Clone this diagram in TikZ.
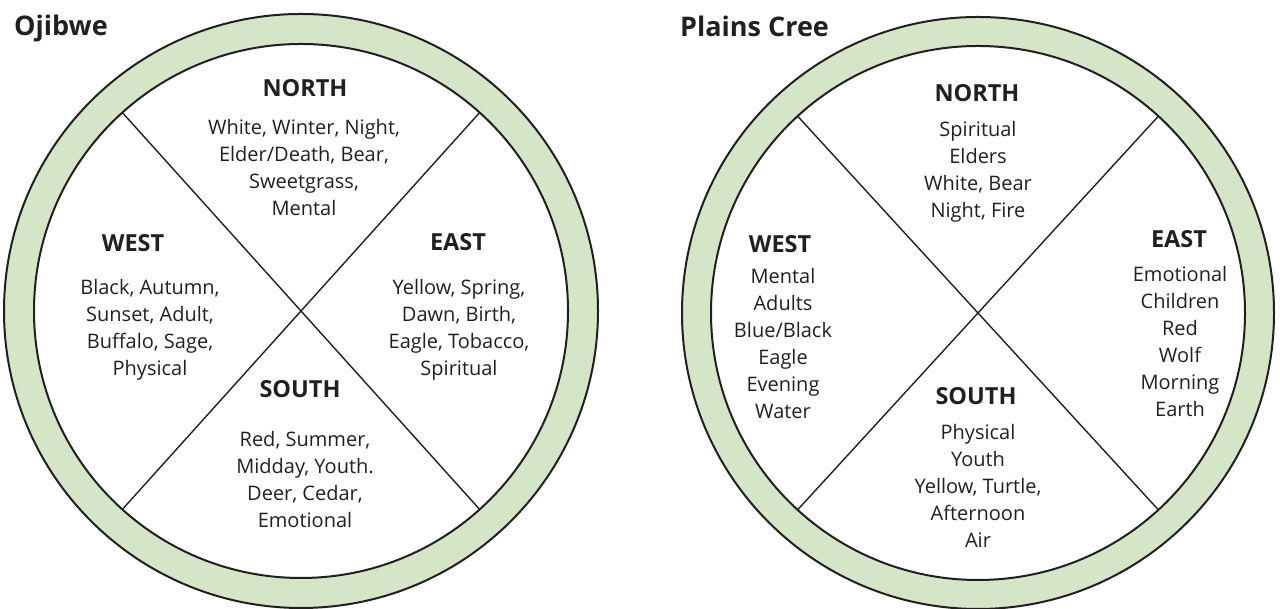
\documentclass[tikz,border=0pt]{standalone}
\usepackage{fontspec}
\setmainfont{Open Sans}
\usepackage{tikz}

\definecolor{ringgreen}{RGB}{213,230,200}
\definecolor{ink}{RGB}{35,31,32}

\begin{document}
\begin{tikzpicture}[x=1pt,y=1pt,
  ring/.style={draw=ink, line width=2pt, fill=ringgreen, even odd rule},
  spoke/.style={draw=ink, line width=1.4pt},
  dirhead/.style={font=\fontsize{23.5}{27}\selectfont\bfseries, text=ink, inner sep=0pt},
  dirbody/.style={font=\fontsize{20}{27}\selectfont, text=ink, align=center, inner sep=0pt},
  wheelname/.style={font=\fontsize{27}{32}\selectfont\bfseries, text=ink, inner sep=0pt, anchor=west}]
  \useasboundingbox (0,0) rectangle (1280,609);

  % wheel centres
  \coordinate (oj) at (301,298);
  \coordinate (cr) at (978,296);

  % Ojibwe wheel
  \draw [ring] (oj) circle (297) (oj) circle (267);
  \draw [spoke] (oj) ++(132:267) -- ++(312:534);
  \draw [spoke] (oj) ++(48:267) -- ++(228:534);

  % Plains Cree wheel
  \draw [ring] (cr) circle (296) (cr) circle (267);
  \draw [spoke] (cr) ++(132.5:267) -- ++(312.5:534);
  \draw [spoke] (cr) ++(47.5:267) -- ++(227.5:534);

  \node [wheelname] (ojibwe) at (14,581) {Ojibwe};
  \node [wheelname] (plainscree) at (680,583) {Plains Cree};

  % Ojibwe quadrants
  \node [dirhead] (ojnorth) at (305,521) {NORTH};
  \node [dirbody] (ojnorthtext) at (304,441) {White, Winter, Night,\\Elder/Death, Bear,\\Sweetgrass,\\Mental};
  \node [dirhead] (ojwest) at (133,366) {WEST};
  \node [dirbody] (ojwesttext) at (150,279) {Black, Autumn,\\Sunset, Adult,\\Buffalo, Sage,\\Physical};
  \node [dirhead] (ojeast) at (458,367) {EAST};
  \node [dirbody] (ojeasttext) at (459,279) {Yellow, Spring,\\Dawn, Birth,\\Eagle, Tobacco,\\Spiritual};
  \node [dirhead] (ojsouth) at (300,220) {SOUTH};
  \node [dirbody] (ojsouthtext) at (305,129) {Red, Summer,\\Midday, Youth.\\Deer, Cedar,\\Emotional};

  % Plains Cree quadrants
  \node [dirhead] (crnorth) at (977,516) {NORTH};
  \node [dirbody] (crnorthtext) at (978,437) {Spiritual\\Elders\\White, Bear\\Night, Fire};
  \node [dirhead] (crwest) at (780,365) {WEST};
  \node [dirbody] (crwesttext) at (783,265) {Mental\\Adults\\Blue/Black\\Eagle\\Evening\\Water};
  \node [dirhead] (creast) at (1179,370) {EAST};
  \node [dirbody] (creasttext) at (1180,267) {Emotional\\Children\\Red\\Wolf\\Morning\\Earth};
  \node [dirhead] (crsouth) at (976,213) {SOUTH};
  \node [dirbody] (crsouthtext) at (978,123) {Physical\\Youth\\Yellow, Turtle,\\Afternoon\\Air};
\end{tikzpicture}
\end{document}
